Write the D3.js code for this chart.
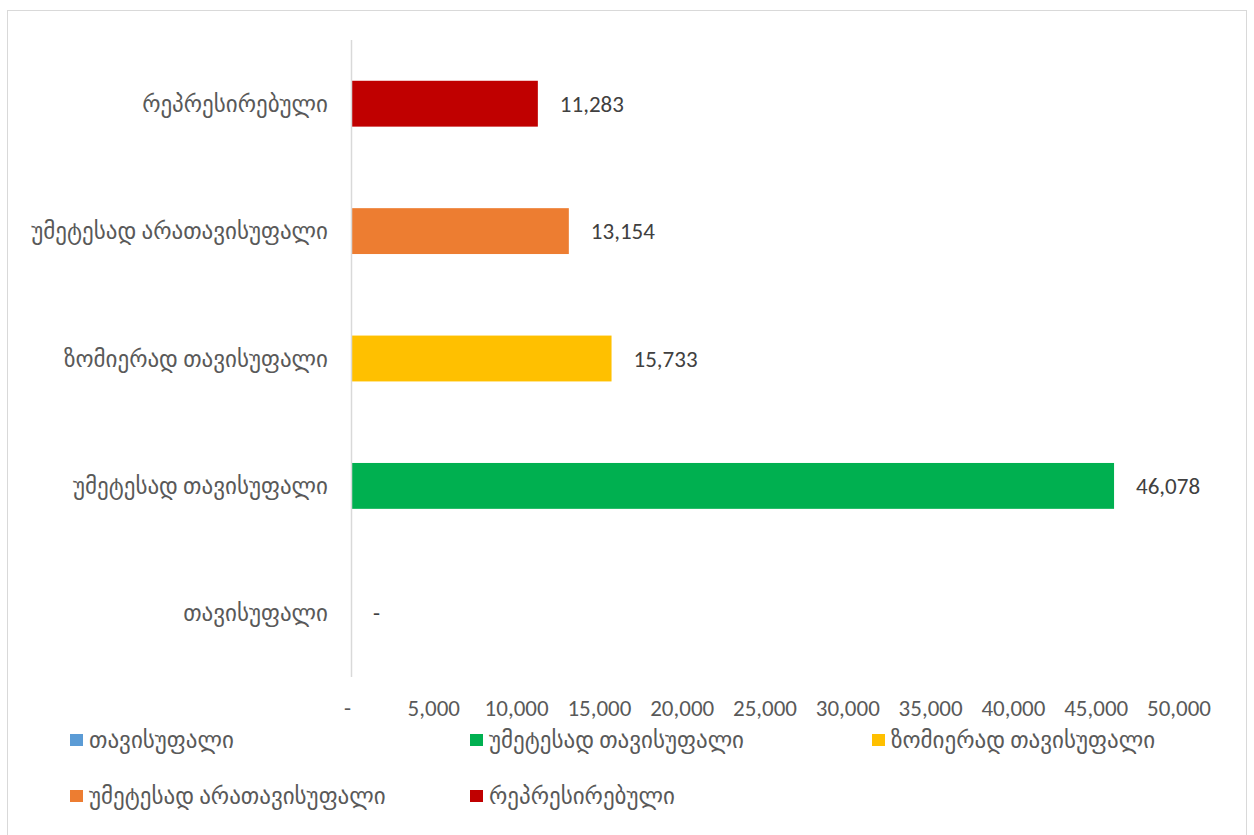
<!DOCTYPE html>
<html>
<head>
<meta charset="utf-8">
<script src="https://cdn.jsdelivr.net/npm/d3@7"></script>
<style>
  body { margin: 0; background: #fff; }
  svg text { font-family: Carlito, Calibri, Lato, "DejaVu Sans", sans-serif; }
</style>
</head>
<body>
<svg id="chart" width="1254" height="835"></svg>
<script>
// categories, top row first
const categories = ["რეპრესირებული", "უმეტესად არათავისუფალი", "ზომიერად თავისუფალი", "უმეტესად თავისუფალი", "თავისუფალი"];
const values = [11283, 13154, 15733, 46078, 0];
const colors = ["#C00000", "#ED7D31", "#FFC000", "#00B050", "#5B9BD5"];
const ticks = [0, 5000, 10000, 15000, 20000, 25000, 30000, 35000, 40000, 45000, 50000];
const legendOrder = [4, 3, 2, 1, 0];

const svg = d3.select("#chart");
const fmt = d3.format(",");
const lbl = v => v === 0 ? "-" : fmt(v);

svg.append("rect").attr("x", 7.5).attr("y", 10.5).attr("width", 1239).attr("height", 830)
    .attr("fill", "#fff").attr("stroke", "#d9d9d9");

const x = d3.scaleLinear().domain([0, 50000]).range([351, 1179]);
const y = d3.scaleBand().domain(categories).range([40, 677]).paddingInner(0.64).paddingOuter(0.32);

// bars
svg.selectAll("rect.bar").data(categories).join("rect").attr("class", "bar")
    .attr("x", x(0)).attr("y", d => y(d))
    .attr("width", (d, i) => x(values[i]) - x(0)).attr("height", y.bandwidth())
    .attr("fill", (d, i) => colors[i]);

// vertical axis line
svg.append("line").attr("x1", x(0) + 0.5).attr("x2", x(0) + 0.5).attr("y1", 40).attr("y2", 677)
    .attr("stroke", "#d9d9d9").attr("stroke-width", 1.5);

// category labels
svg.selectAll("text.cat").data(categories).join("text").attr("class", "cat")
    .attr("x", 328).attr("y", d => y(d) + y.bandwidth() / 2).attr("dy", "0.35em")
    .attr("text-anchor", "end").attr("font-size", 23).attr("fill", "#595959").text(d => d);

// value labels
svg.selectAll("text.val").data(values).join("text").attr("class", "val")
    .attr("x", v => x(v) + 22).attr("y", (v, i) => y(categories[i]) + y.bandwidth() / 2)
    .attr("dy", "0.35em").attr("font-size", 23).attr("fill", "#404040").text(lbl);

// x tick labels
svg.selectAll("text.tick").data(ticks).join("text").attr("class", "tick")
    .attr("x", v => v === 0 ? x(v) - 7 : x(v)).attr("y", 708).attr("dy", "0.35em")
    .attr("text-anchor", v => v === 0 ? "start" : "middle")
    .attr("font-size", 23).attr("fill", "#595959").text(lbl);

// legend
const lx = [70, 470, 872], ly = [740, 796];
const leg = svg.selectAll("g.leg").data(legendOrder).join("g").attr("class", "leg")
    .attr("transform", (d, k) => `translate(${lx[k % 3]},${ly[Math.floor(k / 3)]})`);
leg.append("rect").attr("x", 0).attr("y", -6).attr("width", 13).attr("height", 12).attr("fill", d => colors[d]);
leg.append("text").attr("x", 19).attr("y", 0).attr("dy", "0.35em").attr("font-size", 23)
    .attr("fill", "#595959").text(d => categories[d]);
</script>
</body>
</html>
